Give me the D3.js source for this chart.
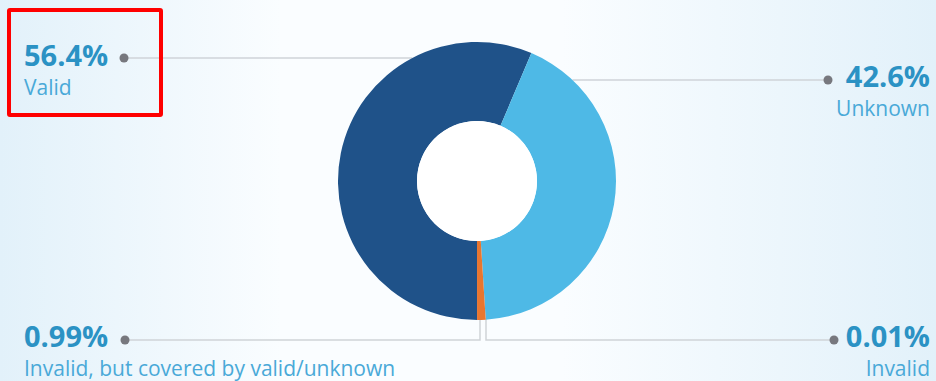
<!DOCTYPE html>
<html>
<head>
<meta charset="utf-8">
<script src="https://cdn.jsdelivr.net/npm/d3@7"></script>
<style>
  html, body { margin: 0; padding: 0; background: #fff; }
  svg { display: block; }
  text { font-family: "Open Sans", "Noto Sans", sans-serif; }
</style>
</head>
<body>
<svg id="chart" width="936" height="381"></svg>
<script>
// Share of records by validation status (percent)
const categories = ["Valid", "Unknown", "Invalid, but covered by valid/unknown", "Invalid"];
const values = [56.4, 42.6, 0.99, 0.01];
const valueLabels = ["56.4%", "42.6%", "0.99%", "0.01%"];
const colors = ["#1f5289", "#4eb9e6", "#e8762f", "#c0392b"];

const W = 936, H = 381;
const svg = d3.select("#chart");

// soft background wash, light blue at the sides
const defs = svg.append("defs");
const grad = defs.append("linearGradient").attr("id", "bg").attr("x1", "0").attr("x2", "1").attr("y1", "0").attr("y2", "0");
grad.append("stop").attr("offset", "0").attr("stop-color", "#e2f1fa");
grad.append("stop").attr("offset", "0.3").attr("stop-color", "#fafdff");
grad.append("stop").attr("offset", "0.6").attr("stop-color", "#fafdff");
grad.append("stop").attr("offset", "1").attr("stop-color", "#e2f1fa");
svg.append("rect").attr("width", W).attr("height", H).attr("fill", "url(#bg)");

const cx = 477, cy = 181, rOuter = 139, rInner = 60;

const pie = d3.pie().sort(null).startAngle(Math.PI).endAngle(3 * Math.PI);
const arcs = pie(values);
const arc = d3.arc().innerRadius(rInner).outerRadius(rOuter);

// leader lines (drawn under the ring)
const lineColor = "#cfd3d8";
const lines = svg.append("g").attr("fill", "none").attr("stroke", lineColor).attr("stroke-width", 1.5);

// point on the outer edge at a given height, on one side of the ring
function edgeX(y, side) {
  const dy = y - cy;
  return cx + side * Math.sqrt(rOuter * rOuter - dy * dy);
}

const dotValid = [124, 58], dotUnknown = [828, 80], dotCovered = [125, 340], dotInvalid = [834, 340];

lines.append("path").attr("d", d3.line()([dotValid, [edgeX(dotValid[1], -1), dotValid[1]]]));
lines.append("path").attr("d", d3.line()([dotUnknown, [edgeX(dotUnknown[1], 1), dotUnknown[1]]]));
lines.append("path").attr("d", d3.line()([dotCovered, [480, dotCovered[1]], [480, cy + rOuter - 2]]));
lines.append("path").attr("d", d3.line()([dotInvalid, [486, dotInvalid[1]], [486, cy + rOuter - 2]]));

// ring
const ring = svg.append("g").attr("transform", `translate(${cx},${cy})`);
ring.selectAll("path").data(arcs).join("path")
  .attr("d", arc)
  .attr("fill", (d, i) => colors[i]);
ring.append("circle").attr("r", rInner).attr("fill", "#fff");

// dots
svg.append("g").selectAll("circle")
  .data([dotValid, dotUnknown, dotCovered, dotInvalid]).join("circle")
  .attr("cx", d => d[0]).attr("cy", d => d[1]).attr("r", 4.5).attr("fill", "#77787e");

// labels
const labelPos = [
  { x: 24, y: 66, anchor: "start" },
  { x: 930, y: 87, anchor: "end" },
  { x: 24, y: 347, anchor: "start" },
  { x: 930, y: 347, anchor: "end" }
];
const lab = svg.append("g");
labelPos.forEach((p, i) => {
  lab.append("text").attr("x", p.x).attr("y", p.y).attr("text-anchor", p.anchor)
    .attr("font-size", 29).attr("font-weight", 700).attr("fill", "#2b92c4")
    .text(valueLabels[i]);
  lab.append("text").attr("x", p.x).attr("y", p.y + 29).attr("text-anchor", p.anchor)
    .attr("font-size", 21).attr("fill", "#49a9d8")
    .text(categories[i]);
});

// highlight box around the Valid label
svg.append("rect").attr("x", 9).attr("y", 10).attr("width", 152).attr("height", 105)
  .attr("fill", "none").attr("stroke", "#ff0000").attr("stroke-width", 4).attr("rx", 1);
</script>
</body>
</html>
